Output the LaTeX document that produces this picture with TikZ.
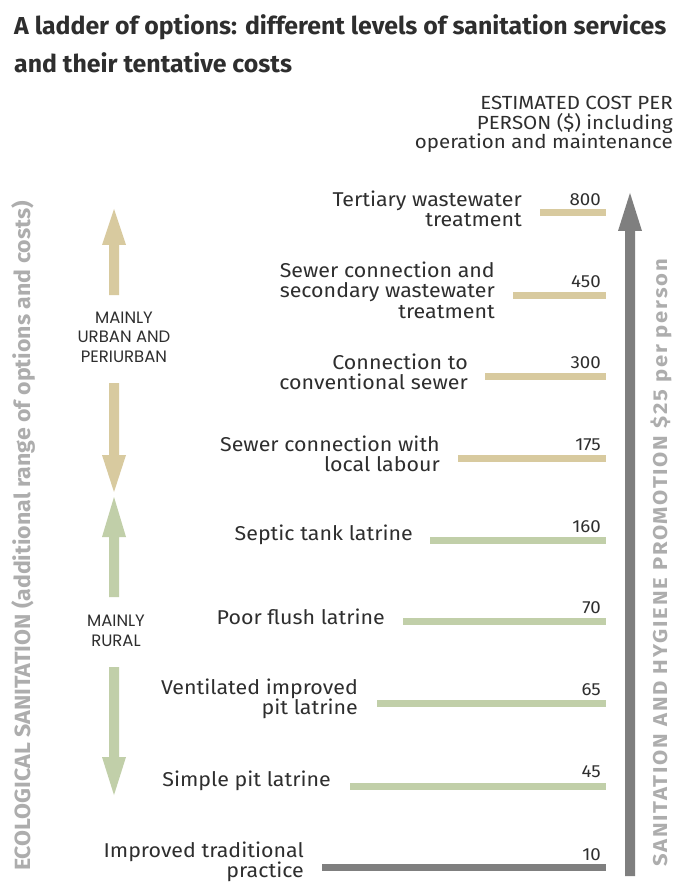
\documentclass[tikz,border=0pt]{standalone}
\usepackage{fontspec}
\setmainfont{Fira Sans}
\newfontfamily\bodyfont[FakeStretch=1.07]{Fira Sans}
\newfontfamily\headfont[FakeStretch=1.08]{Fira Sans}
\newfontfamily\titlefont[FakeStretch=1.015]{Fira Sans}
\newfontfamily\zonefont{Poppins}
\newfontfamily\sideLfont[FakeStretch=1.05]{Fira Sans}
\newfontfamily\sideRfont[FakeStretch=1.1,LetterSpace=9]{Fira Sans}
\definecolor{tanc}{HTML}{D8CA9F}
\definecolor{sagec}{HTML}{C1CFA9}
\definecolor{bigarrow}{HTML}{7F7F7F}
\definecolor{sidegray}{HTML}{ADADAD}
\definecolor{ink}{HTML}{2E2E2E}
\tikzset{
  lbl/.style={anchor=east, align=right, inner sep=0pt, text=ink,
    font=\bodyfont\fontsize{20}{20.5}\selectfont},
  num/.style={anchor=east, inner sep=0pt, text=ink,
    font=\bodyfont\fontsize{17.5}{20}\selectfont},
  bartan/.style={draw=tanc, line width=7pt},
  barsage/.style={draw=sagec, line width=7pt},
  bargray/.style={draw=bigarrow, line width=7pt},
  zone/.style={align=center, inner sep=0pt, text=ink,
    font=\zonefont\fontsize{16.5}{19.5}\selectfont},
  sideL/.style={rotate=90, inner sep=0pt, text=sidegray,
    font=\sideLfont\bfseries\fontsize{22}{22}\selectfont},
  sideR/.style={rotate=90, inner sep=0pt, text=sidegray,
    font=\sideRfont\bfseries\fontsize{20}{22}\selectfont},
  ttl/.style={anchor=base west, inner sep=0pt, text=ink,
    font=\titlefont\bfseries\fontsize{24.5}{30}\selectfont}
}
\begin{document}
\begin{tikzpicture}[x=1pt,y=-1pt]
\useasboundingbox (0,0) rectangle (678,882);
\fill[white] (0,0) rectangle (678,882);

% title
\node[ttl] (title1) at (14,35) {A ladder of options: different levels of sanitation services};
\node[ttl] (title2) at (14,73) {and their tentative costs};

% header
\node[anchor=north east, align=right, inner sep=0pt, text=ink, font=\headfont\fontsize{19}{19.5}\selectfont] (head) at (673,96)
  {ESTIMATED COST PER\\PERSON (\$) including\\operation and maintenance};

% big gray arrow
\fill[bigarrow] (625,876) -- (625,231) -- (618,231) -- (630,193) -- (642,231) -- (635,231) -- (635,876) -- cycle;

% side texts
\node[sideL] (eco) at (23,536) {ECOLOGICAL SANITATION (additional range of options and costs)};
\node[sideR] (promo) at (661,563) {SANITATION AND HYGIENE PROMOTION \$25 per person};

% left arrows
\fill[tanc] (109,295) -- (109,245) -- (102,245) -- (114,209) -- (126,245) -- (119,245) -- (119,295) -- cycle;
\fill[tanc] (109,383) -- (109,455) -- (102,455) -- (114,492) -- (126,455) -- (119,455) -- (119,383) -- cycle;
\fill[sagec] (109,597) -- (109,537) -- (102,537) -- (114,497) -- (126,537) -- (119,537) -- (119,597) -- cycle;
\fill[sagec] (109,667) -- (109,757) -- (102,757) -- (114,795) -- (126,757) -- (119,757) -- (119,667) -- cycle;

\node[zone] (urban) at (124,337) {MAINLY\\URBAN AND\\PERIURBAN};
\node[zone] (rural) at (116,631) {MAINLY\\RURAL};

% rungs
\node[lbl] (l800) at (522,209) {Tertiary wastewater\\treatment};
\node[num] (n800) at (601,200) {800};
\draw[bartan] (540,213) -- (606,213);

\node[lbl] (l450) at (495,290) {Sewer connection and\\secondary wastewater\\treatment};
\node[num] (n450) at (601,282) {450};
\draw[bartan] (513,295) -- (606,295);

\node[lbl] (l300) at (468,372) {Connection to\\conventional sewer};
\node[num] (n300) at (601,363) {300};
\draw[bartan] (485,376) -- (606,376);

\node[lbl] (l175) at (440,454) {Sewer connection with\\local labour};
\node[num] (n175) at (601,445) {175};
\draw[bartan] (458,458) -- (606,458);

\node[lbl] (l160) at (413,535) {Septic tank latrine};
\node[num] (n160) at (601,527) {160};
\draw[barsage] (430,540) -- (606,540);

\node[lbl] (l70) at (385,617) {Poor flush latrine};
\node[num] (n70) at (601,608) {70};
\draw[barsage] (403,621) -- (606,621);

\node[lbl] (l65) at (358,699) {Ventilated improved\\pit latrine};
\node[num] (n65) at (601,690) {65};
\draw[barsage] (377,703) -- (606,703);

\node[lbl] (l45) at (331,781) {Simple pit latrine};
\node[num] (n45) at (601,772) {45};
\draw[barsage] (350,786) -- (606,786);

\node[lbl] (l10) at (304,862) {Improved traditional\\practice};
\node[num] (n10) at (601,855) {10};
\draw[bargray] (322,867) -- (606,867);
\end{tikzpicture}
\end{document}
